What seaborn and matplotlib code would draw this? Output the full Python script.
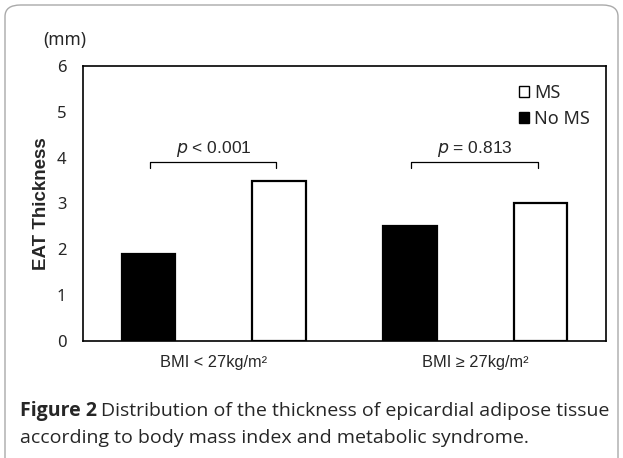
import numpy as np
import pandas as pd
import matplotlib
matplotlib.use("Agg")
import matplotlib.pyplot as plt
import seaborn as sns
from matplotlib.patches import FancyBboxPatch, Patch

# data
groups = ["BMI < 27kg/m\u00b2", "BMI \u2265 27kg/m\u00b2"]
no_ms = [1.9, 2.5]
ms = [3.5, 3.0]
p_labels = ["< 0.001", "= 0.813"]

df = pd.DataFrame({
    "group": groups * 2,
    "status": ["No MS"] * len(groups) + ["MS"] * len(groups),
    "eat": no_ms + ms,
})

sns.set_style("white")
plt.rcParams["font.family"] = ["Noto Sans", "DejaVu Sans"]

fig = plt.figure(figsize=(6.23, 4.58), dpi=100)
ax = fig.add_axes([0.1332, 0.2555, 0.8395, 0.6004])

sns.barplot(data=df, x="group", y="eat", hue="status", hue_order=["No MS", "MS"],
            palette={"No MS": "black", "MS": "white"}, width=1.0, gap=0.59,
            edgecolor="black", linewidth=1.6, legend=False, ax=ax)

ax.set_xlim(-0.5, 1.5)
ax.set_ylim(0, 6)
ax.set_yticks(range(0, 7))
ax.set_xticks([0, 1])
ax.set_xticklabels(groups, family="Liberation Sans", fontsize=11.8)
ax.set_xticks([0.5], minor=True)
ax.tick_params(axis="x", which="both", direction="in", length=4, color="#bbbbbb", pad=10)
ax.tick_params(axis="y", direction="in", length=4, color="#999999", pad=12, labelsize=12)
ax.set_xlabel("")
ax.set_ylabel("EAT Thickness", family="Liberation Sans", fontweight="bold",
              fontsize=13.5, labelpad=5)
for s in ax.spines.values():
    s.set_color("black")
    s.set_linewidth(1.2)

# significance brackets
for i, lab in enumerate(p_labels):
    x0, x1 = i - 0.245, i + 0.24
    yb, yt = 3.77, 3.9
    ax.plot([x0, x0, x1, x1], [yb, yt, yt, yb], color="black", lw=0.9)
    ax.text(i, yt + 0.06, f"$\\it{{p}}$ {lab}", ha="center", va="bottom",
            family="Liberation Sans", fontsize=12.5)

handles = [Patch(facecolor="white", edgecolor="black", label="MS"),
           Patch(facecolor="black", edgecolor="black", label="No MS")]
ax.legend(handles=handles, loc="upper right", bbox_to_anchor=(1.0, 0.995),
          frameon=False, fontsize=13, handlelength=0.6, handleheight=0.6,
          handletextpad=0.25, labelspacing=0.45)

fig.text(43 / 623, 1 - 40 / 458, "(mm)", fontsize=12.5, va="center", ha="left")

# caption: bold "Figure 2" then the rest in regular weight
cap_size = 14
y1 = 1 - 411 / 458
cap_bold = fig.text(20 / 623, y1, "Figure 2", fontsize=cap_size, va="center",
                    family="Open Sans", fontweight="bold")
fig.canvas.draw()
bb = cap_bold.get_window_extent()
fig.text(bb.x1 / fig.bbox.width + 0.007, y1,
         "Distribution of the thickness of epicardial adipose tissue",
         fontsize=cap_size, va="center", family="Open Sans")
fig.text(20 / 623, 1 - 438 / 458, "according to body mass index and metabolic syndrome.",
         fontsize=cap_size, va="center", family="Open Sans")

# rounded border
box = FancyBboxPatch((5 / 623, -12 / 458), 613 / 623, 465 / 458,
                     boxstyle="round,pad=0,rounding_size=0.025",
                     transform=fig.transFigure, facecolor="none",
                     edgecolor="#aaaaaa", lw=1.0)
fig.patches.append(box)

fig.savefig("out.png", dpi=100)
